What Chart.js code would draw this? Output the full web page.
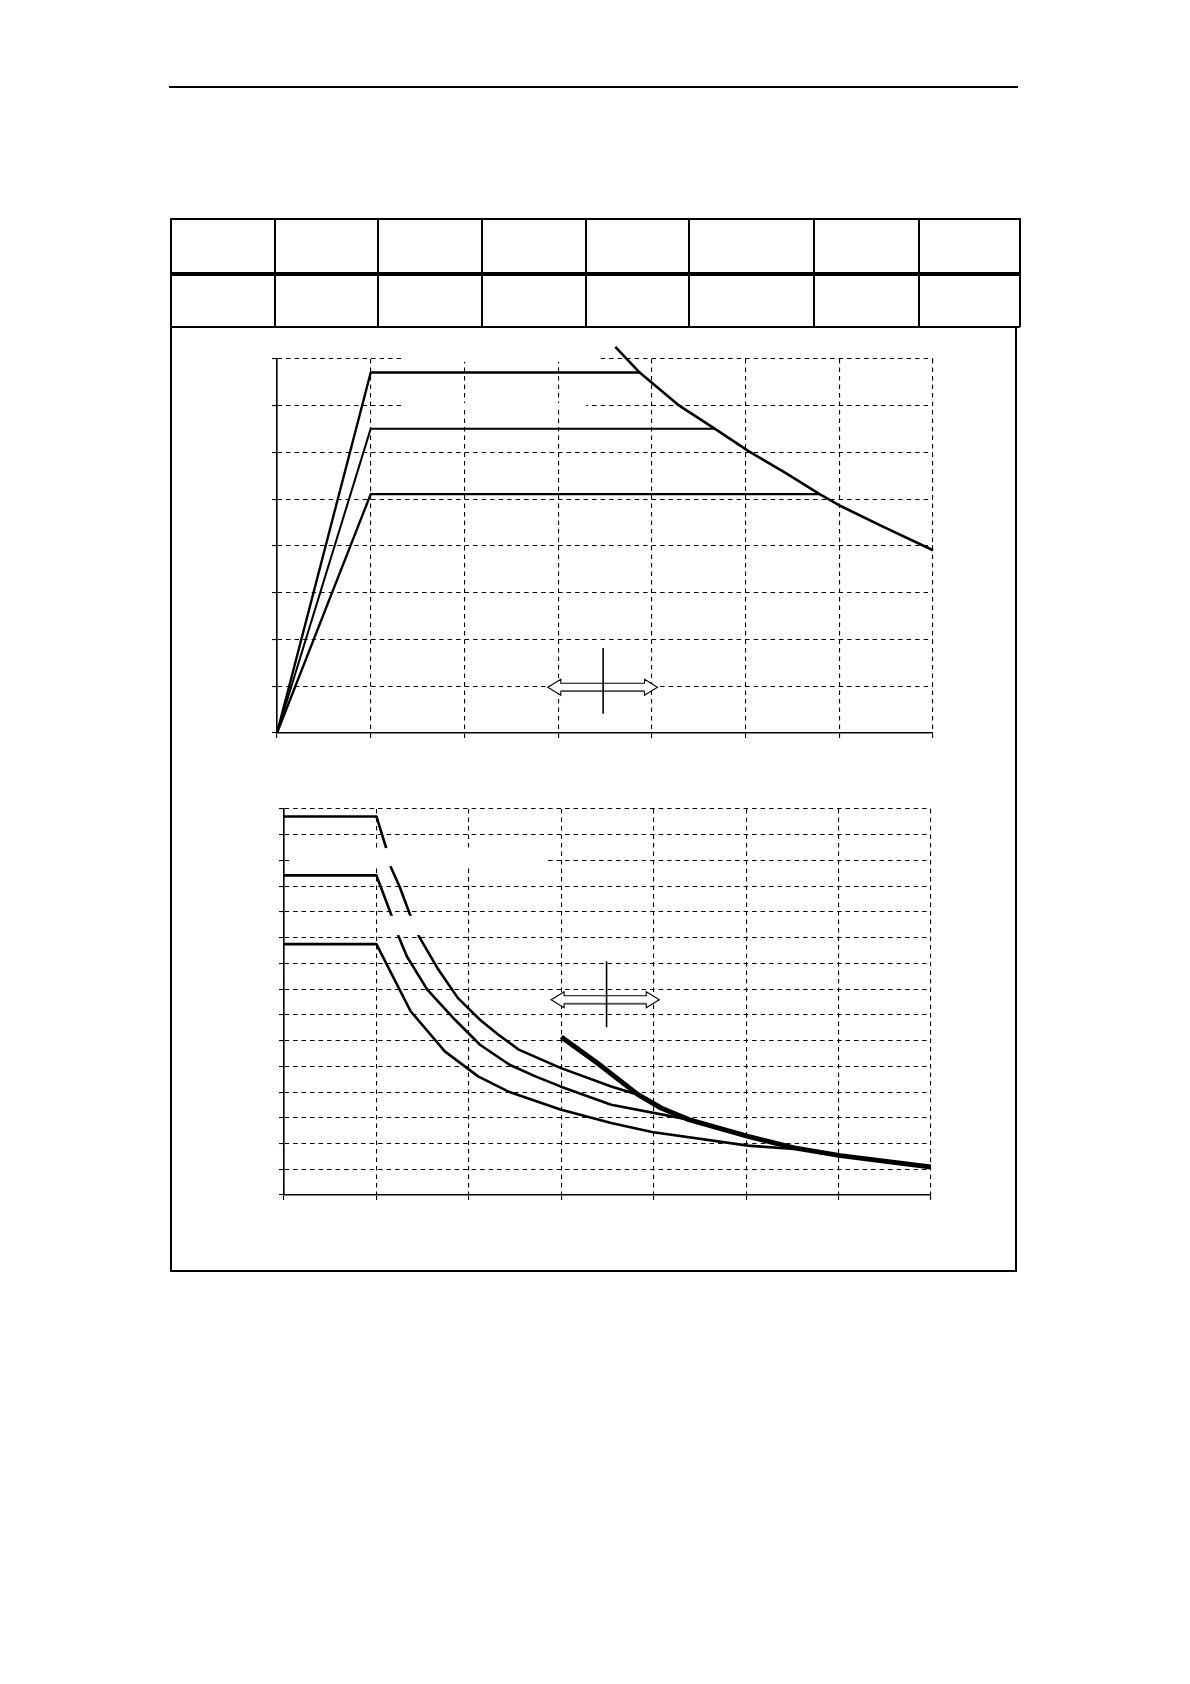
<!DOCTYPE html>
<html>
<head>
<meta charset="utf-8">
<script src="https://cdn.jsdelivr.net/npm/chart.js@4/dist/chart.umd.min.js"></script>
<style>
  body { margin: 0; background: #fff; }
  #page { position: relative; width: 1190px; height: 1684px; background: #fff; overflow: hidden; }
  .ln { position: absolute; background: #000; }
  canvas { position: absolute; }
</style>
</head>
<body>
<div id="page">
  <canvas id="topChart" width="682" height="420" style="left:261px;top:329px;width:682px;height:420px"></canvas>
  <canvas id="bottomChart" width="673" height="412" style="left:268px;top:799px;width:673px;height:412px"></canvas>
</div>
<script>
// oberes Diagramm: drei Geraden + Grenzkurve
var topLine1X = [0, 1, 3.87];
var topLine1Y = [0, 7.71, 7.71];
var topLine2X = [0, 1, 4.67];
var topLine2Y = [0, 6.51, 6.51];
var topLine3X = [0, 1, 5.79];
var topLine3Y = [0, 5.11, 5.11];
var topLimitX = [3.61, 3.87, 4.28, 4.67, 5.04, 5.43, 5.79, 6.02, 6.46, 7.0];
var topLimitY = [8.26, 7.71, 7.02, 6.51, 6.02, 5.56, 5.11, 4.85, 4.42, 3.91];

// unteres Diagramm
var botAX = [0, 1, 1.10, 1.16, 1.25, 1.36, 1.46, 1.67, 1.88, 2.12, 2.32, 2.54, 2.99, 3.54, 3.83];
var botAY = [14.71, 14.71, 13.55, 12.71, 11.99, 10.93, 10.05, 8.76, 7.66, 6.81, 6.23, 5.65, 4.94, 4.22, 3.90];
var botBX = [0, 1, 1.16, 1.24, 1.33, 1.55, 1.85, 2.12, 2.44, 2.72, 2.99, 3.54, 4.38];
var botBY = [12.42, 12.42, 10.89, 10.05, 9.27, 7.98, 6.81, 5.84, 5.06, 4.61, 4.22, 3.51, 2.93];
var botCX = [0, 1, 1.37, 1.74, 2.10, 2.44, 2.99, 3.54, 3.98, 5.02, 5.52];
var botCY = [9.75, 9.75, 7.14, 5.58, 4.61, 4.00, 3.32, 2.80, 2.45, 1.92, 1.79];
var botLimitX = [3.00, 3.39, 3.83, 4.08, 4.38, 5.02, 5.52, 6.02, 7.0];
var botLimitY = [6.14, 5.13, 3.90, 3.38, 2.93, 2.28, 1.83, 1.53, 1.09];

// Achsen (ohne Beschriftung)
var topXMax = 7, topYMax = 8;
var botXMax = 7, botYMax = 15;

// Doppelpfeile (Datenkoordinaten)
var topArrowX = [2.89, 4.06], topArrowY = 0.98, topMarkX = 3.48, topMarkY = [1.82, 0.41];
var botArrowX = [2.89, 4.06], botArrowY = 7.59, botMarkX = 3.49, botMarkY = [9.08, 6.52];

function pts(xs, ys) {
  return xs.map(function (x, i) { return {x: x, y: ys[i]}; });
}

// Seitenrahmen, Tabelle
var page = document.getElementById('page');
function line(l, t, w, h) {
  var d = document.createElement('div');
  d.className = 'ln';
  d.style.left = l + 'px'; d.style.top = t + 'px';
  d.style.width = w + 'px'; d.style.height = h + 'px';
  page.appendChild(d);
}
line(169, 86, 849, 1.5);            // Kopflinie
line(170, 218, 850, 1.6);           // Tabelle oben
line(170, 272, 850, 4);             // dicke Linie
line(170, 326, 850, 1.6);           // Tabelle unten
var cols = [170, 274, 377, 481, 585, 688, 813, 918, 1019];
cols.forEach(function (c) { line(c, 218, 1.6, 109); });
line(170, 326, 1.6, 946);           // Kasten links
line(1015, 326, 1.6, 946);          // Kasten rechts
line(170, 1270, 847, 1.6);          // Kasten unten

function axes(xMax, yMax) {
  var common = {
    type: 'linear',
    min: 0,
    ticks: { display: false, stepSize: 1, maxTicksLimit: 30 },
    grid: { color: '#000', lineWidth: 1.1, tickLength: 5, drawTicks: true },
    border: { display: true, color: '#000', width: 1.6, dash: [4.5, 4] }
  };
  return {
    x: Object.assign({}, common, { max: xMax, afterFit: function (s) { s.height = 6; } }),
    y: Object.assign({}, common, { max: yMax, afterFit: function (s) { s.width = 6; } })
  };
}

function ds(xs, ys, w) {
  return { data: pts(xs, ys), borderColor: '#000', borderWidth: w, pointRadius: 0, showLine: true, tension: 0, fill: false, borderJoinStyle: 'round' };
}

function arrowPlugin(ax, ay, mx, my) {
  return {
    id: 'arrow',
    afterDatasetsDraw: function (chart) {
      var c = chart.ctx, sx = chart.scales.x, sy = chart.scales.y;
      var x1 = sx.getPixelForValue(ax[0]), x2 = sx.getPixelForValue(ax[1]), yc = sy.getPixelForValue(ay);
      var hl = 13, hh = 8, sh = 4;
      c.save();
      c.beginPath();
      c.moveTo(x1, yc);
      c.lineTo(x1 + hl, yc - hh); c.lineTo(x1 + hl, yc - sh);
      c.lineTo(x2 - hl, yc - sh); c.lineTo(x2 - hl, yc - hh);
      c.lineTo(x2, yc);
      c.lineTo(x2 - hl, yc + hh); c.lineTo(x2 - hl, yc + sh);
      c.lineTo(x1 + hl, yc + sh); c.lineTo(x1 + hl, yc + hh);
      c.closePath();
      c.fillStyle = '#fff'; c.fill();
      c.strokeStyle = '#000'; c.lineWidth = 1.1; c.stroke();
      // untere Schaftkante etwas kraeftiger
      c.beginPath();
      c.moveTo(x1 + hl, yc + sh); c.lineTo(x2 - hl, yc + sh);
      c.strokeStyle = '#555'; c.lineWidth = 1.8; c.stroke();
      var xm = sx.getPixelForValue(mx);
      c.beginPath();
      c.moveTo(xm, sy.getPixelForValue(my[0]));
      c.lineTo(xm, sy.getPixelForValue(my[1]));
      c.strokeStyle = '#000'; c.lineWidth = 1.6; c.stroke();
      c.restore();
    }
  };
}

// weisse Flaechen (ehemalige Beschriftungen)
function maskPlugin(boxes, after) {
  var draw = function (chart) {
    var c = chart.ctx, sx = chart.scales.x, sy = chart.scales.y;
    c.save(); c.fillStyle = '#fff';
    boxes.forEach(function (b) {
      var l = sx.getPixelForValue(b[0]), r = sx.getPixelForValue(b[1]);
      var t = sy.getPixelForValue(b[3]), btm = sy.getPixelForValue(b[2]);
      c.fillRect(l, t, r - l, btm - t);
    });
    c.restore();
  };
  var p = { id: 'mask' };
  if (after) p.afterDatasetsDraw = draw; else p.beforeDatasetsDraw = draw;
  return p;
}

window.onload = function () {
  new Chart(document.getElementById('topChart').getContext('2d'), {
    type: 'scatter',
    data: {
      datasets: [
        ds(topLine1X, topLine1Y, 2.4),
        ds(topLine2X, topLine2Y, 2),
        ds(topLine3X, topLine3Y, 2.4),
        Object.assign(ds(topLimitX, topLimitY, 2.6), { clip: false })
      ]
    },
    options: {
      responsive: false,
      animation: false,
      devicePixelRatio: 1,
      layout: { padding: { left: 10, right: 10, top: 30, bottom: 10 } },
      plugins: { legend: { display: false }, tooltip: { enabled: false } },
      scales: axes(topXMax, topYMax)
    },
    plugins: [
      maskPlugin([[1.36, 3.30, 6.94, 7.06], [1.36, 3.44, 7.94, 8.06]], false),
      arrowPlugin(topArrowX, topArrowY, topMarkX, topMarkY)
    ]
  });

  new Chart(document.getElementById('bottomChart').getContext('2d'), {
    type: 'scatter',
    data: {
      datasets: [
        ds(botAX, botAY, 2.6),
        ds(botBX, botBY, 2.6),
        ds(botCX, botCY, 2.6),
        ds(botLimitX, botLimitY, 5)
      ]
    },
    options: {
      responsive: false,
      animation: false,
      devicePixelRatio: 1,
      layout: { padding: 10 },
      plugins: { legend: { display: false }, tooltip: { enabled: false } },
      scales: axes(botXMax, botYMax)
    },
    plugins: [
      maskPlugin([[0.06, 2.84, 12.78, 13.48], [1.1, 1.6, 10.1, 10.85]], true),
      arrowPlugin(botArrowX, botArrowY, botMarkX, botMarkY)
    ]
  });
};
</script>
</body>
</html>
